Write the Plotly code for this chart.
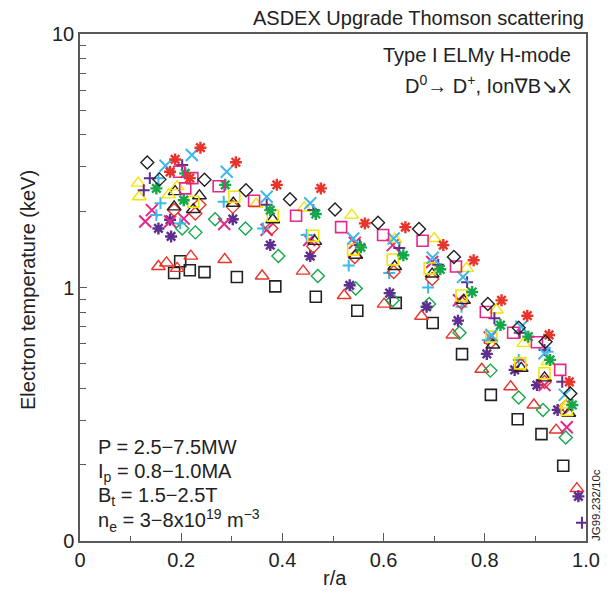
import plotly.graph_objects as go

# ---------------- data (r/a, Te in keV) ----------------
r_blk_diam = [0.133, 0.157, 0.246, 0.328, 0.415, 0.504, 0.589, 0.670, 0.739, 0.806, 0.867, 0.920, 0.969]
te_blk_diam = [3.11, 2.67, 2.66, 2.42, 2.23, 2.03, 1.80, 1.70, 1.32, 0.86, 0.694, 0.611, 0.382]

r_red_ast = [0.188, 0.178, 0.217, 0.238, 0.308, 0.389, 0.476, 0.563, 0.643, 0.718, 0.778, 0.833, 0.884, 0.927, 0.967]
te_red_ast = [3.20, 2.86, 2.70, 3.56, 3.12, 2.54, 2.46, 1.79, 1.73, 1.47, 1.28, 0.89, 0.774, 0.650, 0.424]

r_mag_sq = [0.196, 0.222, 0.208, 0.274, 0.344, 0.427, 0.516, 0.599, 0.677, 0.743, 0.802, 0.856, 0.903, 0.949]
te_mag_sq = [2.86, 2.70, 2.46, 2.51, 2.20, 1.92, 1.73, 1.61, 1.53, 1.21, 0.80, 0.663, 0.608, 0.473]

r_grn_ast = [0.151, 0.208, 0.205, 0.287, 0.376, 0.466, 0.555, 0.639, 0.712, 0.775, 0.831, 0.886, 0.929, 0.973]
te_grn_ast = [2.46, 2.82, 2.21, 2.54, 2.02, 1.95, 1.44, 1.34, 1.18, 0.96, 0.711, 0.640, 0.518, 0.344]

r_cyn_x = [0.169, 0.221, 0.290, 0.369, 0.455, 0.540, 0.620, 0.697, 0.757, 0.813, 0.872, 0.918, 0.958]
te_cyn_x = [3.02, 3.33, 2.86, 2.28, 2.15, 1.56, 1.56, 1.31, 1.10, 0.65, 0.70, 0.550, 0.377]

r_pur_plus = [0.126, 0.138, 0.202, 0.369, 0.461, 0.553, 0.631, 0.708, 0.765, 0.819, 0.869, 0.918, 0.953, 0.992]
te_pur_plus = [2.42, 2.70, 3.04, 2.12, 2.02, 1.47, 1.43, 1.23, 1.05, 0.756, 0.663, 0.567, 0.425, 0.118]

r_yel_tri = [0.115, 0.117, 0.175, 0.192, 0.348, 0.443, 0.537, 0.622, 0.700, 0.764, 0.823, 0.877, 0.925, 0.961]
te_yel_tri = [2.58, 2.28, 2.32, 2.50, 2.13, 2.06, 1.93, 1.55, 1.56, 1.19, 0.815, 0.602, 0.510, 0.344]

r_yel_sq = [0.224, 0.305, 0.381, 0.461, 0.540, 0.618, 0.691, 0.754, 0.813, 0.870, 0.918, 0.962]
te_yel_sq = [2.18, 2.28, 1.92, 1.60, 1.41, 1.29, 1.19, 0.93, 0.640, 0.502, 0.459, 0.329]

r_blk_tri = [0.186, 0.188, 0.224, 0.236, 0.303, 0.381, 0.464, 0.545, 0.622, 0.696, 0.758, 0.816, 0.872, 0.918, 0.966]
te_blk_tri = [2.08, 2.39, 2.03, 2.30, 2.15, 1.85, 1.52, 1.34, 1.21, 1.13, 0.89, 0.593, 0.480, 0.440, 0.319]

r_red_diam = [0.186, 0.228, 0.236, 0.302, 0.378, 0.461, 0.543, 0.620, 0.696, 0.754, 0.812, 0.871, 0.918, 0.960]
te_red_diam = [2.02, 1.96, 2.12, 2.08, 1.71, 1.45, 1.32, 1.15, 1.08, 0.87, 0.611, 0.495, 0.424, 0.339]

r_cyn_plus = [0.151, 0.155, 0.159, 0.198, 0.284, 0.362, 0.448, 0.531, 0.611, 0.688, 0.754, 0.806, 0.867, 0.924]
te_cyn_plus = [1.93, 2.70, 2.15, 1.79, 2.18, 1.71, 1.61, 1.22, 1.14, 1.00, 0.84, 0.621, 0.518, 0.558]

r_mag_x = [0.129, 0.142, 0.178, 0.205, 0.285, 0.369, 0.453, 0.543, 0.618, 0.696, 0.749, 0.810, 0.918, 0.962]
te_mag_x = [1.82, 2.02, 1.82, 1.87, 1.78, 1.69, 1.54, 1.50, 1.47, 1.26, 0.89, 0.635, 0.412, 0.281]

r_pur_ast = [0.155, 0.178, 0.180, 0.302, 0.376, 0.455, 0.533, 0.612, 0.685, 0.747, 0.804, 0.859, 0.903, 0.944, 0.985]
te_pur_ast = [1.71, 1.85, 1.59, 1.86, 1.47, 1.33, 1.02, 0.95, 0.84, 0.74, 0.547, 0.473, 0.412, 0.329, 0.150]

r_grn_diam = [0.202, 0.228, 0.267, 0.327, 0.392, 0.470, 0.545, 0.618, 0.690, 0.750, 0.811, 0.867, 0.915, 0.960]
te_grn_diam = [1.71, 1.65, 1.86, 1.71, 1.33, 1.11, 0.99, 0.89, 0.86, 0.663, 0.470, 0.368, 0.329, 0.256]

r_red_tri = [0.155, 0.171, 0.192, 0.219, 0.286, 0.360, 0.441, 0.522, 0.601, 0.675, 0.737, 0.794, 0.851, 0.897, 0.941, 0.982]
te_red_tri = [1.21, 1.25, 1.19, 1.33, 1.29, 1.11, 1.16, 0.93, 0.86, 0.77, 0.650, 0.476, 0.406, 0.344, 0.274, 0.161]

r_blk_sq = [0.186, 0.198, 0.217, 0.246, 0.310, 0.386, 0.466, 0.548, 0.624, 0.697, 0.755, 0.812, 0.865, 0.912, 0.955]
te_blk_sq = [1.14, 1.27, 1.17, 1.15, 1.10, 1.01, 0.92, 0.81, 0.87, 0.724, 0.546, 0.377, 0.302, 0.264, 0.198]

x_tickvals = [0, 0.2, 0.4, 0.6, 0.8, 1.0]
x_ticktext = ["0", "0.2", "0.4", "0.6", "0.8", "1.0"]
y_tickvals = [0.1, 1, 10]
y_ticktext = ["0", "1", "10"]

# ---------------- styles ----------------
BLACK = "#222222"
RED = "#e8352b"
MAG = "#e6268c"
GRN = "#14a84b"
CYN = "#3cb9ea"
PUR = "#5e2e90"
YEL = "#f2e500"

series = [
    (r_blk_sq, te_blk_sq, "square-open", BLACK, 11, 1.6),
    (r_red_tri, te_red_tri, "triangle-up-open", RED, 12, 1.4),
    (r_grn_diam, te_grn_diam, "diamond-open", GRN, 10, 1.4),
    (r_pur_ast, te_pur_ast, "asterisk-open", PUR, 10, 2.4),
    (r_mag_x, te_mag_x, "x-thin-open", MAG, 12, 2.0),
    (r_cyn_plus, te_cyn_plus, "cross-thin-open", CYN, 8.5, 2.0),
    (r_red_diam, te_red_diam, "diamond-open", RED, 10, 1.4),
    (r_blk_tri, te_blk_tri, "triangle-up-open", BLACK, 12, 1.4),
    (r_yel_sq, te_yel_sq, "square-open", YEL, 11, 1.6),
    (r_yel_tri, te_yel_tri, "triangle-up-open", YEL, 12, 1.4),
    (r_pur_plus, te_pur_plus, "cross-thin-open", PUR, 8.5, 2.0),
    (r_cyn_x, te_cyn_x, "x-thin-open", CYN, 12, 2.0),
    (r_grn_ast, te_grn_ast, "asterisk-open", GRN, 10, 2.4),
    (r_mag_sq, te_mag_sq, "square-open", MAG, 11, 1.6),
    (r_red_ast, te_red_ast, "asterisk-open", RED, 10, 2.4),
    (r_blk_diam, te_blk_diam, "diamond-open", BLACK, 10, 1.4),
]

fig = go.Figure()
for r, t, sym, col, size, lw in series:
    fig.add_trace(go.Scatter(
        x=r, y=t, mode="markers", showlegend=False, hoverinfo="skip",
        marker=dict(symbol=sym, size=size, color=col, line=dict(color=col, width=lw)),
    ))

FONT = "Liberation Sans, Arial, DejaVu Sans, sans-serif"
AXC = "#5a5a5a"

fig.update_layout(
    width=612, height=597,
    margin=dict(l=80, r=26, t=34, b=56),
    paper_bgcolor="white", plot_bgcolor="white",
    font=dict(family=FONT, size=20, color="#222222"),
    xaxis=dict(
        range=[0, 1], tickmode="array", tickvals=x_tickvals, ticktext=x_ticktext,
        ticks="inside", ticklen=8, tickwidth=1.3, tickcolor=AXC,
        showline=True, mirror=True, linecolor=AXC, linewidth=1.5,
        showgrid=False, zeroline=False,
        tickfont=dict(size=20, color="#222222"),
        minor=dict(tickmode="array", tickvals=[0.1, 0.3, 0.5, 0.7, 0.9],
                   ticks="inside", ticklen=5, tickwidth=1.3, tickcolor=AXC, showgrid=False),
    ),
    yaxis=dict(
        type="log", range=[-1, 1], tickmode="array", tickvals=y_tickvals, ticktext=y_ticktext,
        ticks="inside", ticklen=7, tickwidth=1.3, tickcolor=AXC,
        showline=True, mirror=True, linecolor=AXC, linewidth=1.5,
        showgrid=False, zeroline=False,
        tickfont=dict(size=20, color="#222222"),
        minor=dict(tickmode="array",
                   tickvals=[0.2, 0.3, 0.4, 0.5, 0.6, 0.7, 0.8, 0.9, 2, 3, 4, 5, 6, 7, 8, 9],
                   ticks="inside", ticklen=6, tickwidth=1.3, tickcolor=AXC, showgrid=False),
    ),
)

def px2paper(px, py):
    return (px - 80) / 506.0, (541 - py) / 507.0

annots = []
def add_text(text, px, py, xanchor="left", size=20, angle=0):
    x, y = px2paper(px, py)
    annots.append(dict(text=text, x=x, y=y, xref="paper", yref="paper",
                       xanchor=xanchor, yanchor="middle", showarrow=False,
                       textangle=angle, font=dict(family=FONT, size=size, color="#222222")))

add_text("ASDEX Upgrade Thomson scattering", 586, 18, xanchor="right", size=20)
add_text("Type I ELMy H-mode", 573, 55, xanchor="right", size=20)
add_text("D<sup>0</sup>\u2192 D<sup>+</sup>, Ion\u2207B\u2198X", 573, 85, xanchor="right", size=20)
add_text("P = 2.5\u22127.5MW", 96, 447, size=20)
add_text("I<sub>p</sub> = 0.8\u22121.0MA", 96, 472, size=20)
add_text("B<sub>t</sub> = 1.5\u22122.5T", 96, 496, size=20)
add_text("n<sub>e</sub> = 3\u22128x10<sup>19</sup> m<sup>\u22123</sup>", 96, 520, size=20)
add_text("r/a", 335, 578, xanchor="center", size=20)
add_text("Electron temperature (keV)", 28, 290, xanchor="center", size=20, angle=-90)
add_text("JG99.232/10c", 596, 505, xanchor="center", size=11.5, angle=-90)

fig.update_layout(annotations=annots)
fig.write_html("out.html")
